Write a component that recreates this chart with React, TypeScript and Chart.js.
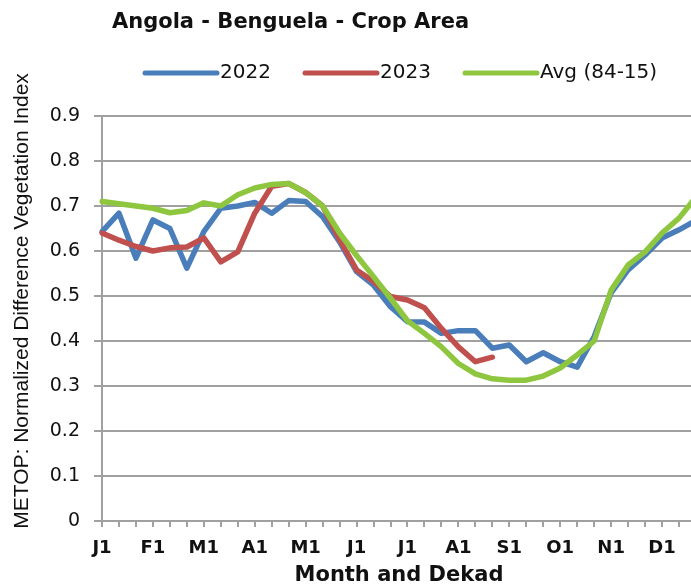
import React, { useEffect, useRef } from 'react';
import { Chart, registerables } from 'chart.js';

Chart.register(...registerables);

// ---- Data ----
const DEKADS = [
  'J1', 'J2', 'J3', 'F1', 'F2', 'F3', 'M1', 'M2', 'M3', 'A1', 'A2', 'A3',
  'M1', 'M2', 'M3', 'J1', 'J2', 'J3', 'J1', 'J2', 'J3', 'A1', 'A2', 'A3',
  'S1', 'S2', 'S3', 'O1', 'O2', 'O3', 'N1', 'N2', 'N3', 'D1', 'D2', 'D3',
];

const Y_TICKS = ['0', '0.1', '0.2', '0.3', '0.4', '0.5', '0.6', '0.7', '0.8', '0.9'];

const SERIES_2022 = [
  0.643, 0.684, 0.584, 0.669, 0.65, 0.562, 0.643, 0.695, 0.70, 0.708, 0.684, 0.712,
  0.71, 0.676, 0.62, 0.554, 0.524, 0.476, 0.443, 0.442, 0.417, 0.423, 0.423, 0.384,
  0.391, 0.354, 0.374, 0.354, 0.342, 0.41, 0.507, 0.558, 0.591, 0.629, 0.647, 0.668,
];

const SERIES_2023 = [
  0.64, 0.624, 0.61, 0.60, 0.607, 0.609, 0.629, 0.576, 0.598, 0.684, 0.744, 0.75,
  0.73, 0.70, 0.625, 0.558, 0.532, 0.499, 0.491, 0.474, 0.428, 0.387, 0.354, 0.364,
];

const SERIES_AVG = [
  0.71, 0.705, 0.70, 0.695, 0.685, 0.69, 0.707, 0.70, 0.725, 0.74, 0.748, 0.75,
  0.73, 0.70, 0.64, 0.59, 0.543, 0.495, 0.445, 0.417, 0.387, 0.35, 0.327, 0.316,
  0.313, 0.313, 0.322, 0.34, 0.369, 0.40, 0.513, 0.569, 0.598, 0.64, 0.673, 0.72,
];

const SERIES_NAMES = ['2022', '2023', 'Avg (84-15)'];
const TITLE = 'Angola - Benguela - Crop Area';
const Y_TITLE = 'METOP: Normalized Difference Vegetation Index';
const X_TITLE = 'Month and Dekad';

// ---- Styles ----
const BLUE = '#4a7ebb';
const RED = '#c0504d';
const GREEN = '#8ec63f';
const GRID = '#a0a0a0';
const TEXT = '#111111';
const FONT = '"DejaVu Sans", sans-serif';

const overlayPlugin = {
  id: 'overlayText',
  afterDraw(chart: any) {
    const ctx = chart.ctx as CanvasRenderingContext2D;
    ctx.save();
    // Title
    ctx.fillStyle = TEXT;
    ctx.textBaseline = 'middle';
    ctx.textAlign = 'left';
    ctx.font = `bold 21px ${FONT}`;
    ctx.fillText(TITLE, 112, 23);

    // Legend
    ctx.font = `20px ${FONT}`;
    const colors = [BLUE, RED, GREEN];
    const y = 73;
    SERIES_NAMES.forEach((name, i) => {
      const x = 145 + i * 160;
      ctx.strokeStyle = colors[i];
      ctx.lineWidth = 5;
      ctx.lineCap = 'round';
      ctx.beginPath();
      ctx.moveTo(x, y);
      ctx.lineTo(x + 72, y);
      ctx.stroke();
      ctx.fillStyle = TEXT;
      ctx.fillText(name, x + 75, y);
    });

    // Y axis title
    ctx.font = `21px "Liberation Sans", Arial, sans-serif`;
    ctx.translate(22, 301);
    ctx.rotate(-Math.PI / 2);
    ctx.textAlign = 'center';
    ctx.fillText(Y_TITLE, 0, 0);
    ctx.restore();
  },
};

export default function App() {
  const canvasRef = useRef<HTMLCanvasElement | null>(null);

  useEffect(() => {
    if (!canvasRef.current) return;
    const chart = new Chart(canvasRef.current, {
      type: 'line',
      data: {
        labels: DEKADS,
        datasets: [
          { label: SERIES_NAMES[0], data: SERIES_2022, borderColor: BLUE, backgroundColor: BLUE, order: 3 },
          { label: SERIES_NAMES[1], data: SERIES_2023, borderColor: RED, backgroundColor: RED, order: 2 },
          { label: SERIES_NAMES[2], data: SERIES_AVG, borderColor: GREEN, backgroundColor: GREEN, order: 1 },
        ],
      },
      options: {
        animation: false,
        responsive: true,
        maintainAspectRatio: false,
        layout: { padding: { top: 116, left: 0, right: 14, bottom: 0 } },
        elements: {
          point: { radius: 0, hoverRadius: 0 },
          line: { tension: 0, borderWidth: 5.5, borderJoinStyle: 'round', borderCapStyle: 'round', fill: false },
        },
        plugins: {
          legend: { display: false },
          title: { display: false },
          tooltip: { enabled: false },
        },
        scales: {
          x: {
            type: 'category',
            offset: false,
            grid: { display: true, drawOnChartArea: false, drawTicks: true, tickLength: 6, color: GRID, lineWidth: 2 },
            border: { display: true, color: GRID, width: 2 },
            ticks: {
              autoSkip: false,
              maxRotation: 0,
              minRotation: 0,
              padding: 11,
              color: TEXT,
              font: { family: FONT, size: 18, weight: 'bold' },
              callback: (_v: any, i: number) => (i % 3 === 0 ? DEKADS[i] : ''),
            },
            title: {
              display: true,
              text: X_TITLE,
              color: TEXT,
              font: { family: FONT, size: 21, weight: 'bold' },
              padding: { top: 0, bottom: -2 },
            },
            afterFit: (s: any) => {
              s.height = 65;
            },
          },
          y: {
            min: 0,
            max: 0.9,
            ticks: {
              stepSize: 0.1,
              padding: 14,
              color: TEXT,
              font: { family: FONT, size: 19 },
              callback: (_v: any, i: number) => Y_TICKS[i],
            },
            grid: { color: GRID, lineWidth: 2, drawTicks: true, tickLength: 8 },
            border: { display: true, color: GRID, width: 2 },
            afterFit: (s: any) => {
              s.width = 102;
            },
          },
        },
      },
      plugins: [overlayPlugin],
    });
    return () => chart.destroy();
  }, []);

  return (
    <div
      style={{
        position: 'absolute',
        left: 0,
        top: 0,
        width: 691,
        height: 586,
        overflow: 'hidden',
        background: '#ffffff',
      }}
    >
      <div style={{ position: 'relative', width: 710, height: 586 }}>
        <canvas ref={canvasRef} />
      </div>
    </div>
  );
}
